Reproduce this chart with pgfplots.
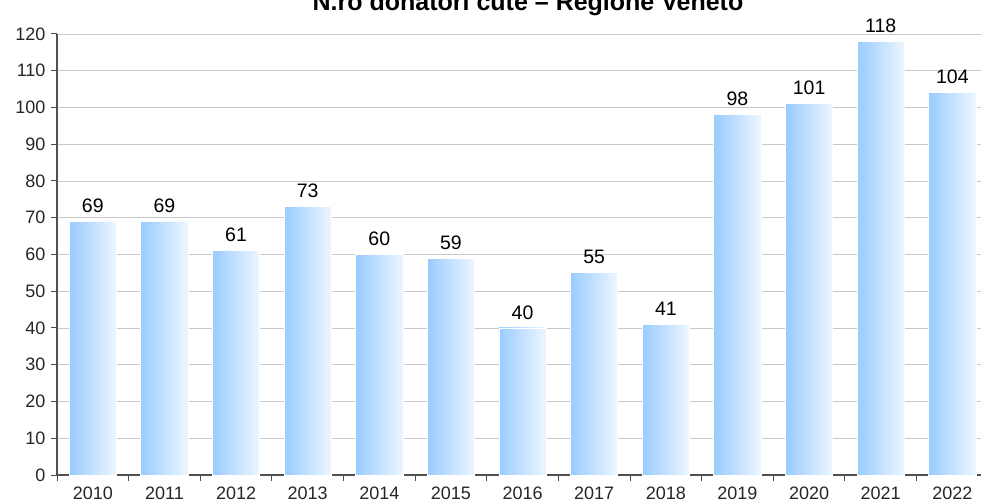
\documentclass[border=0pt]{standalone}
\usepackage{pgfplots}
\pgfplotsset{compat=1.18}
\usepackage{fontspec}
\setmainfont{Liberation Sans}
\definecolor{barL}{HTML}{99CCFF}
\definecolor{barR}{HTML}{EEF6FF}
\definecolor{gridc}{HTML}{C8C8C8}
\definecolor{axc}{HTML}{505050}
\pgfplotsset{mybar/.style={ybar, bar width=0.66, bar shift=0pt, draw=white, line width=0.8pt, left color=barL, right color=barR,
  nodes near coords, nodes near coords style={font=\fontsize{19.5bp}{22bp}\selectfont, text=black, yshift=5bp}}}
\begin{document}
\begin{tikzpicture}
\begin{axis}[
  at={(0,0)}, anchor=south west,
  scale only axis, width=924bp, height=441bp,
  xmin=-0.5, xmax=12.4, ymin=0, ymax=120,
  axis lines*=left,
  axis line style={axc, line width=1.2pt},
  every outer x axis line/.append style={-}, every outer y axis line/.append style={-},
  ytick={0,10,...,120},
  ymajorgrids, grid style={gridc, line width=0.9pt},
  tick style={axc, line width=1pt},
  ytick style={axc, line width=1pt},
  tick align=outside, major tick length=6bp,
  xtick={0,...,12},
  xticklabels={2010,2011,2012,2013,2014,2015,2016,2017,2018,2019,2020,2021,2022},
  x tick style={draw=none},
  extra x ticks={-0.5,0.5,...,11.5},
  extra x tick labels={},
  extra x tick style={x tick style={draw=axc, line width=1pt}, major tick length=6bp, grid=none},
  /pgf/number format/assume math mode=true,
  ticklabel style={font=\fontsize{18bp}{20bp}\selectfont, text=black!85},
  xticklabel style={yshift=-2bp},
  yticklabel style={xshift=-2bp},
  clip=false,
]
\addplot[mybar] coordinates {(0,69)};
\addplot[mybar] coordinates {(1,69)};
\addplot[mybar] coordinates {(2,61)};
\addplot[mybar] coordinates {(3,73)};
\addplot[mybar] coordinates {(4,60)};
\addplot[mybar] coordinates {(5,59)};
\addplot[mybar] coordinates {(6,40)};
\addplot[mybar] coordinates {(7,55)};
\addplot[mybar] coordinates {(8,41)};
\addplot[mybar] coordinates {(9,98)};
\addplot[mybar] coordinates {(10,101)};
\addplot[mybar] coordinates {(11,118)};
\addplot[mybar] coordinates {(12,104)};
\end{axis}
\node[anchor=base, font=\bfseries\fontsize{25bp}{28bp}\selectfont] at (471bp,464bp) {N.ro donatori cute – Regione Veneto};
\pgfresetboundingbox
\useasboundingbox (-57bp,-29bp) rectangle (924bp,475bp);
\end{tikzpicture}
\end{document}
